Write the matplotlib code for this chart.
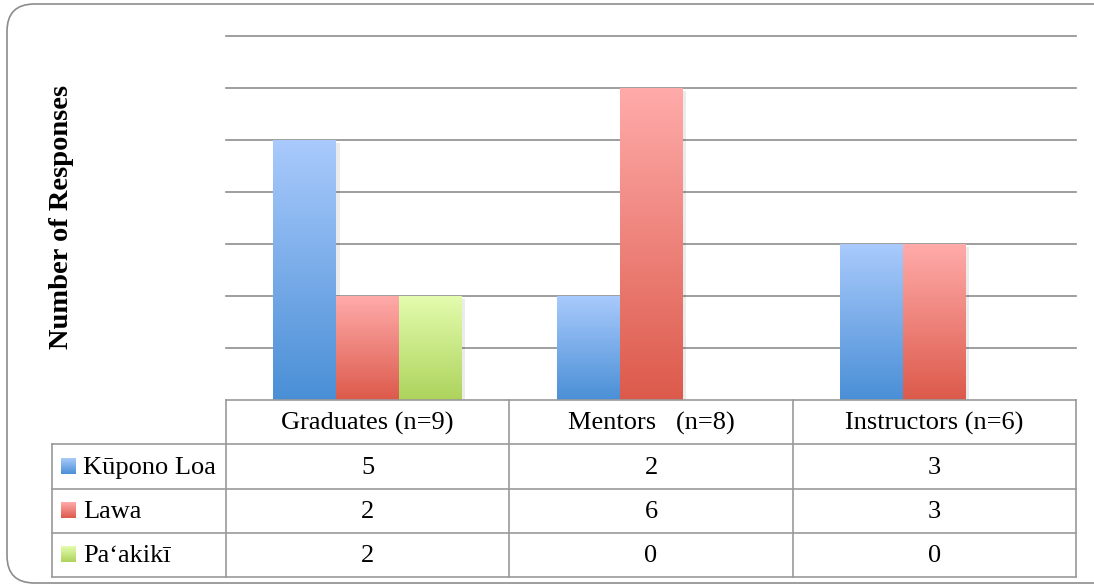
import matplotlib.pyplot as plt
import numpy as np
from matplotlib.colors import LinearSegmentedColormap
from matplotlib.patches import FancyBboxPatch, Rectangle

# Survey responses per group
groups = ["Graduates (n=9)", "Mentors   (n=8)", "Instructors (n=6)"]
series = ["Kūpono Loa", "Lawa", "Pa‘akikī"]
kupono_loa = [5, 2, 3]
lawa = [2, 6, 3]
paakiki = [2, 0, 0]
values = [kupono_loa, lawa, paakiki]

# gradient colours (bottom, top) for each series
grad = [("#4a8fd6", "#a9cafc"), ("#dc5a4b", "#ffabaa"), ("#add35c", "#e3fcae")]

plt.rcParams['font.family'] = ['Liberation Serif', 'DejaVu Serif']

W, H = 1094, 588
fig = plt.figure(figsize=(W / 100, H / 100), dpi=100)

def px_axes(x0, y0, x1, y1):
    # pixel box (top-left origin) -> figure axes
    return fig.add_axes([x0 / W, 1 - y1 / H, (x1 - x0) / W, (y1 - y0) / H])

# rounded outer frame
frame = FancyBboxPatch((7 / W, 5 / H), 1.2, 579 / H, boxstyle="round,pad=0,rounding_size=0.025",
                       transform=fig.transFigure, facecolor="none", edgecolor="#8c8c8c",
                       linewidth=1.2, mutation_aspect=W / H, zorder=-1)
fig.patches.append(frame)

ax = px_axes(226, 36, 1076, 400)
ax.set_facecolor("none")
ax.set_xlim(-0.5, 2.5)
ax.set_ylim(0, 7)
ax.set_yticks(range(1, 8))
ax.set_xticks([])
ax.tick_params(left=False, labelleft=False)
ax.grid(axis="y", color="#8e8e8e", linewidth=1.2)
ax.set_axisbelow(True)
for line in ax.get_ygridlines():
    line.set_clip_on(False)
for s in ax.spines.values():
    s.set_visible(False)

width = 0.222
x = np.arange(len(groups))
for i, (vals, (c0, c1)) in enumerate(zip(values, grad)):
    cmap = LinearSegmentedColormap.from_list(f"g{i}", [c0, c1])
    bars = ax.bar(x + (i - 1) * width, vals, width, color="none", edgecolor="none")
    for b in bars:
        h = b.get_height()
        if h <= 0:
            continue
        bx = b.get_x()
        # soft drop shadow
        ax.add_patch(Rectangle((bx + 0.012, -0.05), width, h, facecolor="#000000",
                               alpha=0.08, edgecolor="none", zorder=2))
        g = np.linspace(0, 1, 256).reshape(-1, 1)
        ax.imshow(g, extent=[bx, bx + width, 0, h], origin="lower", aspect="auto",
                  cmap=cmap, zorder=3 + i * 0.01)
ax.set_xlim(-0.5, 2.5)
ax.set_ylim(0, 7)

# y axis title
fig.text(62 / W, 1 - 217 / H, "Number of Responses", rotation=90, ha="center", va="center",
         fontsize=20.5, fontweight="bold")

# data table below the plot
units = 850 / 3
left_units = (226 - 52) / units
tab = px_axes(52, 400, 1076, 577)
tab.set_xlim(-0.5 - left_units, 2.5)
tab.set_ylim(0, 4)
tab.axis("off")
lc, lw = "#9a9a9a", 1.2

# horizontal lines
tab.plot([-0.5, 2.5], [4, 4], color=lc, lw=lw, clip_on=False)
for yy in [0, 1, 2, 3]:
    tab.plot([-0.5 - left_units, 2.5], [yy, yy], color=lc, lw=lw, clip_on=False)
# vertical lines
tab.plot([-0.5 - left_units] * 2, [0, 3], color=lc, lw=lw, clip_on=False)
for xx in [-0.5, 0.5, 1.5, 2.5]:
    tab.plot([xx, xx], [0, 4], color=lc, lw=lw, clip_on=False)

fs = 19
for j, g in enumerate(groups):
    tab.text(j, 3.47, g, ha="center", va="center", fontsize=fs)
sw = 15 / units
for i, (name, vals, (c0, c1)) in enumerate(zip(series, values, grad)):
    yc = 2.5 - i
    cmap = LinearSegmentedColormap.from_list(f"s{i}", [c0, c1])
    sx = -0.5 - left_units + 9 / units
    gimg = np.linspace(0, 1, 64).reshape(-1, 1)
    tab.imshow(gimg, extent=[sx, sx + sw, yc - 0.17, yc + 0.17], origin="lower",
               aspect="auto", cmap=cmap)
    tab.text(sx + sw + 7 / units, yc - 0.03, name, ha="left", va="center", fontsize=fs)
    for j, v in enumerate(vals):
        tab.text(j, yc - 0.03, str(v), ha="center", va="center", fontsize=fs)
tab.set_xlim(-0.5 - left_units, 2.5)
tab.set_ylim(0, 4)

fig.savefig("out.png", dpi=100)
